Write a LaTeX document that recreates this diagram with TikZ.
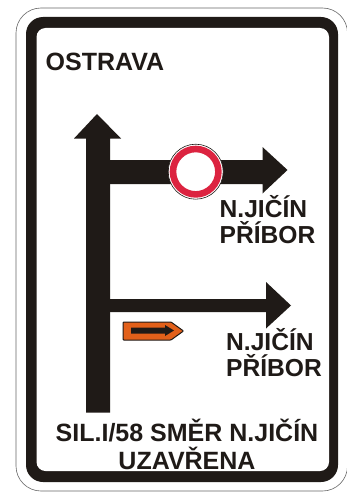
\documentclass[tikz,border=0pt]{standalone}
\usepackage{fontspec}
\setmainfont{Liberation Sans}
\usetikzlibrary{arrows.meta,calc}
\definecolor{signblack}{HTML}{1F1A17}
\definecolor{signred}{HTML}{DC2340}
\definecolor{signorange}{HTML}{E2601A}
\tikzset{
	signtext/.style={font=\bfseries\fontsize{#1}{26}\selectfont, text=signblack, inner sep=0pt, align=left},
	bararrow/.style={fill=signblack, draw=none},
}
\begin{document}
\begin{tikzpicture}[x=1pt, y=-1pt]
	\useasboundingbox (0,0) rectangle (347,492);
	\fill[white] (0,0) rectangle (347,492);
	% sign edge and frame
	\draw[black!60, line width=0.6pt, rounded corners=25pt] (16,8) rectangle (347.5,491);
	\fill[signblack, rounded corners=17pt] (26,17) rectangle (338,482);
	\fill[white, rounded corners=9pt] (36.5,28) rectangle (329,471);
	% arrows
	\fill[bararrow] (86,412.5) -- (86,138.5) -- (74,138.5) -- (97,114) -- (121,138.5) -- (110,138.5) -- (110,412.5) -- cycle;
	\fill[bararrow] (110,160) -- (262.5,160) -- (262.5,147) -- (287.5,170) -- (262.5,193.5) -- (262.5,184) -- (110,184) -- cycle;
	\fill[bararrow] (110,299) -- (266,299) -- (266,282) -- (291,305.5) -- (266,328.5) -- (266,312) -- (110,312) -- cycle;
	% closed road disc
	\node[circle, draw=signblack, line width=0.6pt, fill=white, inner sep=0pt, minimum size=55pt] (disc) at (195.7,171.7) {};
	\draw[signred, line width=6.6pt] (disc.center) circle (22.7pt);
	% small orange plate
	\filldraw[fill=signorange, draw=signblack, line width=1pt, rounded corners=0.8pt] (123,322) -- (171,322) -- (183.5,331) -- (171,340) -- (123,340) -- cycle;
	\fill[bararrow] (131,327.5) -- (165,327.5) -- (165,325) -- (174,330.5) -- (165,336) -- (165,333.5) -- (131,333.5) -- cycle;
	% texts
	\node[signtext=25, anchor=west] (ostrava) at (45.5,62) {OSTRAVA};
	\node[signtext=24.6, anchor=west] (upper) at (219.5,219.5) {N.JIČÍN\\PŘÍBOR};
	\node[signtext=24.6, anchor=west] (lower) at (226,353) {N.JIČÍN\\PŘÍBOR};
	\node[signtext=25, anchor=center, align=center] (closed) at (187,444) {SIL.I/58 SMĚR N.JIČÍN\\[2pt]UZAVŘENA};
\end{tikzpicture}
\end{document}
